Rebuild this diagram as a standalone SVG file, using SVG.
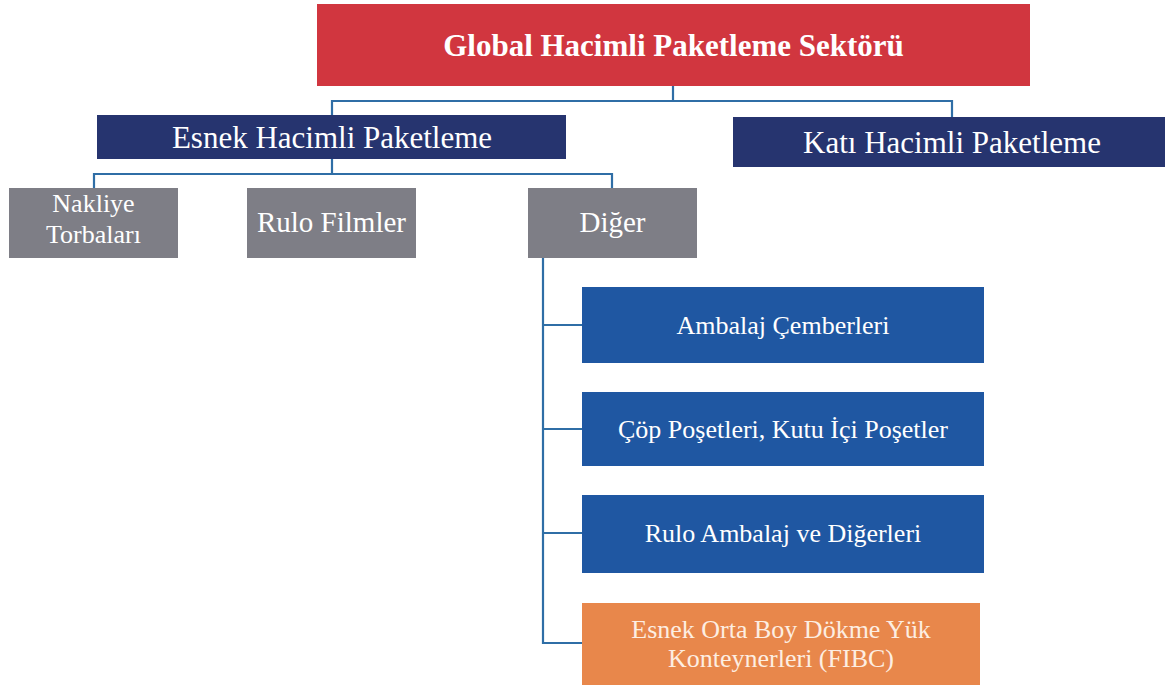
<svg xmlns="http://www.w3.org/2000/svg" width="1165" height="687" viewBox="0 0 1165 687">
<style>
.t{font-family:"Liberation Serif","Times New Roman",serif;fill:#ffffff;text-anchor:middle}
.title{font-size:31px;font-weight:bold}
.l1{font-size:31px}
.l2{font-size:29px}
.l2s{font-size:26px}
.l3{font-size:26px}
.red{fill:#d1363f}
.navy{fill:#26346f}
.gray{fill:#7e7e86}
.blue{fill:#1f57a2}
.orange{fill:#e8874b}
.conn{fill:none;stroke:#2f6ea6;stroke-width:2.2}
</style>
<rect width="1165" height="687" fill="#ffffff"/>
<g id="connectors">
<path class="conn" d="M673 86V101M332 115V101H952V117"/>
<path class="conn" d="M332 159V174M94 188V174H612V188"/>
<path class="conn" d="M543 258V643H582M543 325H582M543 429H582M543 533H582"/>
</g>
<g id="global"><rect class="red" x="317" y="4" width="713" height="82"/><text class="t title" x="673.5" y="56">Global Hacimli Paketleme Sektörü</text></g>
<g id="esnek"><rect class="navy" x="97" y="115" width="469" height="44"/><text class="t l1" x="332" y="148">Esnek Hacimli Paketleme</text></g>
<g id="kati"><rect class="navy" x="733" y="117" width="432" height="50"/><text class="t l1" x="952" y="153">Katı Hacimli Paketleme</text></g>
<g id="nakliye"><rect class="gray" x="9" y="188" width="169" height="70"/><text class="t l2s" x="93.5" y="212">Nakliye</text><text class="t l2s" x="93.5" y="243">Torbaları</text></g>
<g id="rulo-filmler"><rect class="gray" x="247" y="188" width="169" height="70"/><text class="t l2" x="331.5" y="232">Rulo Filmler</text></g>
<g id="diger"><rect class="gray" x="528" y="188" width="169" height="70"/><text class="t l2" x="612.5" y="232">Diğer</text></g>
<g id="ambalaj"><rect class="blue" x="582" y="287" width="402" height="76"/><text class="t l3" x="783" y="334">Ambalaj Çemberleri</text></g>
<g id="cop"><rect class="blue" x="582" y="392" width="402" height="74"/><text class="t l3" x="783" y="438">Çöp Poşetleri, Kutu İçi Poşetler</text></g>
<g id="rulo-ambalaj"><rect class="blue" x="582" y="495" width="402" height="78"/><text class="t l3" x="783" y="542">Rulo Ambalaj ve Diğerleri</text></g>
<g id="fibc"><rect class="orange" x="582" y="603" width="398" height="82"/><text class="t l3" x="781" y="638" style="fill:#fdeee2">Esnek Orta Boy Dökme Yük</text><text class="t l3" x="781" y="667" style="fill:#fdeee2">Konteynerleri (FIBC)</text></g>
</svg>
